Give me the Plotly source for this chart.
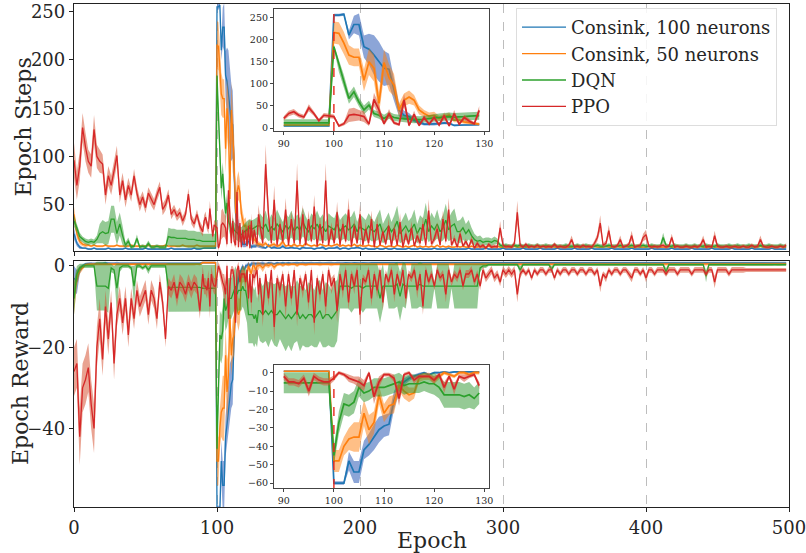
import plotly.graph_objects as go

W, H = 806, 553

# ---------------- data ----------------
# epochs: every 2nd epoch outside the zoomed window, every epoch inside 90..129
EPOCHS = list(range(0, 90, 2)) + list(range(90, 130)) + list(range(130, 500, 2))
N = len(EPOCHS)
INSET_FIRST, INSET_LAST = 90, 129

NAMES = ["Consink, 100 neurons", "Consink, 50 neurons", "DQN", "PPO"]
COLORS = ["#1f77b4", "#ff7f0e", "#2ca02c", "#d62728"]
BAND_COLORS = ["rgba(70,110,190,0.62)", "rgba(255,127,14,0.5)",
               "rgba(44,150,44,0.5)", "rgba(215,85,55,0.55)"]

STEPS_TICKS = [50, 100, 150, 200, 250]
REWARD_TICKS = [0, -20, -40]
EPOCH_TICKS = [0, 100, 200, 300, 400, 500]
INSET_X_TICKS = [90, 100, 110, 120, 130]
INSET_STEPS_TICKS = [0, 50, 100, 150, 200, 250]
INSET_REWARD_TICKS = [0, -10, -20, -30, -40, -50, -60]

# ---- Epoch Steps (mean and spread) ----
STEPS_C100 = [
    20, 10, 6, 5, 5, 4, 4, 5, 4, 4,
    4, 4, 5, 4, 4, 4, 4, 4, 5, 4,
    4, 4, 4, 4, 4, 5, 4, 4, 4, 4,
    4, 4, 4, 4, 5, 4, 4, 4, 4, 4,
    4, 4, 5, 4, 4,
    5, 5, 5, 5, 5, 5, 5, 5, 5, 5,
    255, 255, 257, 210, 234, 234, 184, 178, 165, 150,
    135, 133, 86, 41, 29, 26, 18, 14, 9, 9,
    9, 10, 12, 11, 6, 7, 7, 7, 8, 8,
    7, 6, 5, 8, 5, 6, 5, 5, 7, 5,
    5, 6, 5, 5, 4, 6, 5, 5, 5, 4,
    5, 5, 6, 4, 5, 5, 5, 6, 4, 5,
    5, 4, 5, 5, 6, 5, 4, 5, 4, 4,
    4, 5, 4, 4, 5, 4, 4, 5, 4, 4,
    4, 4, 5, 4, 4, 4, 5, 4, 4, 4,
    4, 5, 4, 4, 4, 4, 5, 4, 4, 4,
    4, 4, 4, 5, 4, 4, 4, 4, 4, 5,
    4, 4, 4, 4, 4, 5, 4, 4, 4, 4,
    4, 4, 5, 4, 4, 4, 4, 4, 5, 4,
    4, 4, 4, 4, 5, 4, 4, 4, 4, 4,
    5, 4, 4, 4, 4, 4, 5, 4, 4, 4,
    4, 4, 4, 5, 4, 4, 4, 4, 4, 4,
    5, 4, 4, 4, 4, 4, 4, 5, 4, 4,
    4, 4, 4, 4, 5, 4, 4, 4, 4, 4,
    4, 5, 4, 4, 4, 4, 4, 4, 5, 4,
    4, 4, 4, 4, 4, 5, 4, 4, 4, 4,
    4, 4, 5, 4, 4, 4, 4, 4, 4, 5,
    4, 4, 4, 4, 4,
]
STEPS_C100_SD = [
    6, 3, 2, 1, 1, 1, 1, 1, 1, 1,
    1, 1, 1, 1, 1, 1, 1, 1, 1, 1,
    1, 1, 1, 1, 1, 1, 1, 1, 1, 1,
    1, 1, 1, 1, 1, 1, 1, 1, 1, 1,
    1, 1, 1, 1, 1,
    1, 1, 1, 1, 1, 1, 1, 1, 1, 1,
    3, 3, 3, 10, 20, 25, 25, 35, 45, 45,
    40, 35, 25, 15, 10, 8, 5, 5, 3, 3,
    3, 3, 3, 3, 2, 2, 2, 2, 2, 2,
    2, 2, 1, 2, 1, 2, 1, 1, 2, 1,
    1, 2, 1, 1, 1, 2, 1, 1, 1, 1,
    1, 1, 2, 1, 1, 1, 1, 2, 1, 1,
    1, 1, 1, 1, 2, 1, 1, 1, 1, 1,
    1, 1, 1, 1, 1, 1, 1, 1, 1, 1,
    1, 1, 1, 1, 1, 1, 1, 1, 1, 1,
    1, 1, 1, 1, 1, 1, 1, 1, 1, 1,
    1, 1, 1, 1, 1, 1, 1, 1, 1, 1,
    1, 1, 1, 1, 1, 1, 1, 1, 1, 1,
    1, 1, 1, 1, 1, 1, 1, 1, 1, 1,
    1, 1, 1, 1, 1, 1, 1, 1, 1, 1,
    1, 1, 1, 1, 1, 1, 1, 1, 1, 1,
    1, 1, 1, 1, 1, 1, 1, 1, 1, 1,
    1, 1, 1, 1, 1, 1, 1, 1, 1, 1,
    1, 1, 1, 1, 1, 1, 1, 1, 1, 1,
    1, 1, 1, 1, 1, 1, 1, 1, 1, 1,
    1, 1, 1, 1, 1, 1, 1, 1, 1, 1,
    1, 1, 1, 1, 1, 1, 1, 1, 1, 1,
    1, 1, 1, 1, 1,
]
STEPS_C50 = [
    40, 20, 12, 9, 8, 8, 7, 8, 7, 7,
    7, 8, 7, 7, 7, 8, 7, 7, 7, 7,
    8, 7, 7, 7, 7, 7, 8, 7, 7, 7,
    7, 7, 8, 7, 7, 7, 7, 7, 8, 7,
    7, 7, 7, 8, 7,
    7, 7, 7, 7, 7, 7, 7, 7, 7, 7,
    216, 214, 192, 165, 160, 160, 108, 150, 135, 56,
    148, 114, 97, 41, 63, 70, 63, 41, 33, 27,
    29, 22, 26, 29, 18, 18, 14, 12, 10, 9,
    9, 8, 10, 7, 8, 9, 7, 8, 12, 7,
    8, 7, 9, 7, 8, 7, 10, 8, 7, 8,
    7, 9, 8, 7, 8, 7, 8, 9, 7, 8,
    7, 8, 7, 9, 7, 8, 7, 7, 8, 7,
    7, 6, 8, 7, 6, 7, 7, 6, 8, 7,
    6, 7, 6, 7, 8, 6, 7, 6, 7, 6,
    7, 6, 8, 6, 7, 6, 7, 6, 6, 7,
    6, 7, 6, 6, 7, 6, 6, 7, 6, 6,
    7, 6, 6, 7, 6, 6, 7, 6, 6, 7,
    6, 6, 7, 6, 6, 7, 6, 6, 6, 7,
    6, 6, 7, 6, 6, 6, 7, 6, 6, 6,
    7, 6, 6, 6, 7, 6, 6, 7, 6, 6,
    6, 7, 6, 6, 6, 7, 6, 6, 7, 6,
    6, 6, 7, 6, 6, 6, 7, 6, 6, 7,
    6, 6, 6, 7, 6, 6, 7, 6, 6, 6,
    7, 6, 6, 6, 7, 6, 6, 6, 7, 6,
    6, 7, 6, 6, 6, 7, 6, 6, 6, 7,
    6, 6, 7, 6, 6, 7, 6, 6, 6, 7,
    6, 6, 7, 6, 6,
]
STEPS_C50_SD = [
    8, 5, 3, 2, 2, 1, 1, 1, 1, 1,
    1, 1, 1, 1, 1, 1, 1, 1, 1, 1,
    1, 1, 1, 1, 1, 1, 1, 1, 1, 1,
    1, 1, 1, 1, 1, 1, 1, 1, 1, 1,
    1, 1, 1, 1, 1,
    1, 1, 1, 1, 1, 1, 1, 1, 1, 1,
    25, 25, 25, 22, 20, 20, 25, 30, 30, 25,
    30, 30, 25, 15, 15, 15, 12, 10, 8, 8,
    8, 6, 6, 6, 5, 5, 4, 4, 3, 3,
    2, 2, 2, 1, 2, 2, 1, 2, 3, 1,
    1, 1, 2, 1, 1, 1, 2, 1, 1, 1,
    1, 1, 1, 1, 1, 1, 1, 1, 1, 1,
    1, 1, 1, 1, 1, 1, 1, 1, 1, 1,
    1, 1, 1, 1, 1, 1, 1, 1, 1, 1,
    1, 1, 1, 1, 1, 1, 1, 1, 1, 1,
    1, 1, 1, 1, 1, 1, 1, 1, 1, 1,
    1, 1, 1, 1, 1, 1, 1, 1, 1, 1,
    1, 1, 1, 1, 1, 1, 1, 1, 1, 1,
    1, 1, 1, 1, 1, 1, 1, 1, 1, 1,
    1, 1, 1, 1, 1, 1, 1, 1, 1, 1,
    1, 1, 1, 1, 1, 1, 1, 1, 1, 1,
    1, 1, 1, 1, 1, 1, 1, 1, 1, 1,
    1, 1, 1, 1, 1, 1, 1, 1, 1, 1,
    1, 1, 1, 1, 1, 1, 1, 1, 1, 1,
    1, 1, 1, 1, 1, 1, 1, 1, 1, 1,
    1, 1, 1, 1, 1, 1, 1, 1, 1, 1,
    1, 1, 1, 1, 1, 1, 1, 1, 1, 1,
    1, 1, 1, 1, 1,
]
STEPS_DQN = [
    33, 26, 17, 14, 12, 11, 12, 11, 14, 20,
    22, 20, 21, 35, 35, 20, 30, 18, 8, 12,
    6, 7, 15, 6, 7, 6, 10, 6, 6, 7,
    6, 6, 6, 17, 16, 16, 15, 15, 15, 15,
    14, 14, 14, 13, 13,
    12, 12, 12, 12, 12, 12, 12, 12, 12, 12,
    184, 142, 105, 67, 82, 59, 41, 52, 33, 29,
    22, 29, 24, 22, 21, 20, 19, 19, 20, 22,
    23, 24, 25, 26, 25, 25, 26, 27, 28, 28,
    28, 25, 30, 22, 27, 24, 30, 26, 22, 28,
    25, 30, 23, 27, 24, 32, 26, 22, 28, 25,
    30, 24, 27, 22, 28, 26, 24, 30, 23, 26,
    28, 24, 26, 30, 22, 27, 25, 23, 28, 24,
    22, 26, 30, 20, 24, 28, 22, 26, 33, 20,
    24, 28, 22, 25, 30, 20, 26, 24, 35, 22,
    28, 24, 30, 22, 26, 34, 24, 28, 30, 22,
    22, 26, 20, 24, 18, 14, 12, 13, 11, 12,
    12, 11, 13, 12, 8, 7, 8, 7, 7, 8,
    7, 8, 7, 7, 8, 7, 7, 8, 7, 7,
    8, 7, 7, 8, 7, 7, 7, 8, 7, 7,
    7, 8, 7, 7, 8, 7, 7, 7, 8, 7,
    7, 7, 8, 7, 7, 7, 8, 7, 7, 7,
    8, 7, 7, 7, 8, 7, 7, 8, 7, 7,
    7, 16, 8, 7, 7, 8, 7, 7, 7, 8,
    7, 7, 8, 7, 7, 7, 8, 7, 7, 7,
    8, 7, 7, 7, 8, 7, 7, 8, 7, 7,
    7, 8, 7, 7, 7, 8, 7, 7, 8, 7,
    7, 7, 8, 7, 7,
]
STEPS_DQN_SD = [
    6, 5, 4, 3, 3, 3, 3, 3, 4, 10,
    12, 12, 12, 14, 14, 12, 12, 10, 3, 4,
    2, 2, 4, 2, 2, 2, 3, 2, 2, 2,
    2, 2, 2, 9, 9, 9, 9, 9, 9, 9,
    9, 9, 9, 9, 9,
    8, 8, 8, 8, 8, 8, 8, 8, 8, 8,
    5, 15, 15, 12, 12, 10, 10, 10, 8, 8,
    8, 8, 8, 8, 8, 8, 8, 8, 8, 8,
    9, 9, 9, 9, 9, 9, 9, 9, 9, 9,
    13, 12, 14, 10, 13, 12, 15, 12, 10, 13,
    12, 14, 11, 13, 12, 15, 12, 10, 13, 12,
    14, 12, 13, 10, 13, 12, 12, 14, 11, 12,
    13, 12, 12, 14, 10, 13, 12, 11, 13, 12,
    10, 13, 15, 10, 12, 14, 10, 13, 16, 10,
    12, 14, 11, 12, 15, 10, 13, 12, 17, 11,
    14, 12, 15, 11, 13, 17, 12, 14, 16, 11,
    12, 12, 10, 10, 8, 6, 5, 5, 4, 4,
    4, 4, 4, 3, 2, 2, 2, 2, 2, 2,
    2, 2, 2, 2, 2, 2, 2, 2, 2, 2,
    2, 2, 2, 2, 2, 2, 2, 2, 2, 2,
    2, 2, 2, 2, 2, 2, 2, 2, 2, 2,
    2, 2, 2, 2, 2, 2, 2, 2, 2, 2,
    2, 2, 2, 2, 2, 2, 2, 2, 2, 2,
    2, 5, 2, 2, 2, 2, 2, 2, 2, 2,
    2, 2, 2, 2, 2, 2, 2, 2, 2, 2,
    2, 2, 2, 2, 2, 2, 2, 2, 2, 2,
    2, 2, 2, 2, 2, 2, 2, 2, 2, 2,
    2, 2, 2, 2, 2,
]
STEPS_PPO = [
    96, 70, 90, 130, 110, 95, 90, 128, 100, 95,
    92, 60, 80, 70, 85, 101, 60, 75, 55, 70,
    60, 80, 62, 50, 58, 47, 62, 55, 50, 60,
    68, 45, 50, 60, 40, 45, 38, 42, 33, 40,
    61, 35, 30, 40, 28,
    22, 33, 37, 29, 25, 46, 33, 17, 29, 27,
    26, 5, 10, 29, 31, 29, 26, 9, 65, 41,
    10, 33, 12, 8, 63, 6, 31, 6, 24, 9,
    24, 7, 28, 5, 33, 9, 24, 16, 10, 40,
    30, 10, 92, 40, 10, 55, 8, 30, 12, 45,
    8, 35, 10, 75, 9, 40, 8, 35, 12, 48,
    7, 30, 10, 75, 8, 25, 10, 42, 8, 30,
    12, 45, 7, 28, 10, 40, 8, 25, 10, 35,
    6, 30, 8, 22, 9, 28, 7, 25, 8, 32,
    6, 20, 9, 26, 7, 18, 10, 30, 8, 44,
    9, 15, 25, 8, 35, 12, 45, 8, 15, 6,
    20, 7, 12, 6, 14, 5, 10, 6, 8, 5,
    9, 6, 7, 6, 26, 8, 6, 7, 6, 10,
    42, 8, 6, 9, 6, 7, 6, 8, 6, 7,
    6, 7, 6, 9, 6, 7, 6, 6, 8, 14,
    6, 7, 6, 8, 6, 7, 6, 10, 16, 31,
    8, 10, 23, 7, 6, 8, 14, 6, 7, 9,
    18, 6, 7, 8, 16, 19, 7, 6, 7, 6,
    7, 8, 6, 7, 16, 6, 7, 6, 6, 7,
    6, 6, 7, 6, 8, 14, 6, 7, 6, 18,
    7, 6, 6, 7, 6, 6, 7, 6, 6, 7,
    6, 6, 8, 6, 7, 14, 7, 6, 6, 7,
    6, 6, 7, 6, 8,
]
STEPS_PPO_SD = [
    18, 15, 15, 15, 15, 12, 12, 15, 12, 12,
    10, 10, 10, 10, 10, 10, 8, 8, 8, 8,
    7, 7, 7, 7, 6, 6, 6, 6, 6, 6,
    6, 6, 6, 6, 5, 5, 5, 5, 5, 5,
    6, 5, 5, 5, 5,
    5, 6, 6, 5, 5, 8, 5, 4, 5, 5,
    5, 3, 4, 15, 15, 12, 12, 4, 15, 12,
    4, 10, 4, 3, 15, 3, 8, 3, 6, 3,
    6, 3, 8, 2, 8, 3, 6, 5, 3, 10,
    8, 3, 20, 10, 3, 15, 2, 8, 3, 12,
    2, 9, 3, 18, 2, 10, 2, 9, 3, 12,
    2, 8, 3, 18, 2, 7, 3, 11, 2, 8,
    3, 12, 2, 8, 3, 10, 2, 7, 3, 9,
    2, 8, 2, 6, 2, 8, 2, 7, 2, 9,
    2, 6, 2, 7, 2, 5, 3, 8, 2, 12,
    2, 4, 7, 2, 9, 3, 12, 2, 4, 2,
    5, 2, 3, 2, 4, 2, 3, 2, 2, 2,
    2, 2, 2, 2, 7, 2, 2, 2, 2, 3,
    12, 2, 2, 2, 2, 2, 2, 2, 2, 2,
    2, 2, 2, 2, 2, 2, 2, 2, 2, 4,
    2, 2, 2, 2, 2, 2, 2, 3, 4, 8,
    2, 3, 6, 2, 2, 2, 4, 2, 2, 2,
    5, 2, 2, 2, 4, 5, 2, 2, 2, 2,
    2, 2, 2, 2, 4, 2, 2, 2, 2, 2,
    2, 2, 2, 2, 2, 4, 2, 2, 2, 5,
    2, 2, 2, 2, 2, 2, 2, 2, 2, 2,
    2, 2, 2, 2, 2, 4, 2, 2, 2, 2,
    2, 2, 2, 2, 2,
]

# ---- Epoch Reward (mean and spread) ----
REWARD_C100 = [
    -3, -4, -1, 0, 0.5, 0.6, 0.6, 0.5, 0.6, 0.6,
    0.6, 0.7, 0.6, 0.6, 0.6, 0.7, 0.6, 0.6, 0.6, 0.6,
    0.7, 0.6, 0.6, 0.6, 0.6, 0.6, 0.7, 0.6, 0.6, 0.6,
    0.6, 0.6, 0.7, 0.6, 0.6, 0.6, 0.6, 0.6, 0.7, 0.6,
    0.6, 0.6, 0.6, 0.7, 0.6,
    0.8, 0.8, 0.8, 0.8, 0.8, 0.8, 0.8, 0.8, 0.8, 0.8,
    -60, -60, -60, -48, -54, -54, -42, -39, -35, -31,
    -29, -28, -15, -8, -5, -3, -2, -1, 0, -1,
    0, 0, 0.5, 0, 0.5, 0.5, 0.5, 0.5, 0.5, 0.5,
    0.5, 0.6, 0.4, 0.7, 0.6, 0.5, 0.7, 0.6, 0.7, 0.6,
    0.7, 0.6, 0.7, 0.7, 0.6, 0.7, 0.6, 0.7, 0.7, 0.6,
    0.7, 0.7, 0.6, 0.7, 0.7, 0.7, 0.6, 0.7, 0.7, 0.7,
    0.8, 0.7, 0.7, 0.8, 0.7, 0.7, 0.8, 0.7, 0.7, 0.8,
    0.8, 0.7, 0.7, 0.8, 0.7, 0.7, 0.8, 0.7, 0.7, 0.8,
    0.8, 0.7, 0.7, 0.8, 0.7, 0.7, 0.8, 0.7, 0.7, 0.8,
    0.8, 0.7, 0.7, 0.8, 0.7, 0.7, 0.8, 0.7, 0.7, 0.8,
    0.8, 0.7, 0.7, 0.8, 0.7, 0.7, 0.8, 0.7, 0.7, 0.8,
    0.8, 0.7, 0.7, 0.8, 0.7, 0.7, 0.8, 0.7, 0.7, 0.8,
    0.8, 0.7, 0.7, 0.8, 0.7, 0.7, 0.8, 0.7, 0.7, 0.8,
    0.8, 0.7, 0.7, 0.8, 0.7, 0.7, 0.8, 0.7, 0.7, 0.8,
    0.8, 0.7, 0.7, 0.8, 0.7, 0.7, 0.8, 0.7, 0.7, 0.8,
    0.8, 0.7, 0.7, 0.8, 0.7, 0.7, 0.8, 0.7, 0.7, 0.8,
    0.8, 0.7, 0.7, 0.8, 0.7, 0.7, 0.8, 0.7, 0.7, 0.8,
    0.8, 0.7, 0.7, 0.8, 0.7, 0.7, 0.8, 0.7, 0.7, 0.8,
    0.8, 0.7, 0.7, 0.8, 0.7, 0.7, 0.8, 0.7, 0.7, 0.8,
    0.8, 0.7, 0.7, 0.8, 0.7, 0.7, 0.8, 0.7, 0.7, 0.8,
    0.8, 0.7, 0.7, 0.8, 0.7, 0.7, 0.8, 0.7, 0.7, 0.8,
    0.8, 0.7, 0.7, 0.8, 0.7,
]
REWARD_C100_SD = [
    3, 3, 1, 0.5, 0.3, 0.3, 0.3, 0.3, 0.3, 0.3,
    0.3, 0.3, 0.3, 0.3, 0.3, 0.3, 0.3, 0.3, 0.3, 0.3,
    0.3, 0.3, 0.3, 0.3, 0.3, 0.3, 0.3, 0.3, 0.3, 0.3,
    0.3, 0.3, 0.3, 0.3, 0.3, 0.3, 0.3, 0.3, 0.3, 0.3,
    0.3, 0.3, 0.3, 0.3, 0.3,
    0.3, 0.3, 0.3, 0.3, 0.3, 0.3, 0.3, 0.3, 0.3, 0.3,
    1, 1, 1, 5, 6, 6, 5, 6, 7, 7,
    6, 6, 5, 3, 2, 1.5, 1, 1, 0.5, 0.5,
    0.5, 0.5, 0.5, 0.5, 0.5, 0.5, 0.5, 0.5, 0.5, 0.5,
    0.4, 0.5, 0.4, 0.3, 0.4, 0.3, 0.3, 0.3, 0.3, 0.3,
    0.3, 0.3, 0.3, 0.3, 0.3, 0.3, 0.3, 0.3, 0.3, 0.3,
    0.3, 0.3, 0.3, 0.3, 0.3, 0.3, 0.3, 0.3, 0.3, 0.3,
    0.3, 0.3, 0.3, 0.3, 0.3, 0.3, 0.3, 0.3, 0.3, 0.3,
    0.3, 0.3, 0.3, 0.3, 0.3, 0.3, 0.3, 0.3, 0.3, 0.3,
    0.3, 0.3, 0.3, 0.3, 0.3, 0.3, 0.3, 0.3, 0.3, 0.3,
    0.3, 0.3, 0.3, 0.3, 0.3, 0.3, 0.3, 0.3, 0.3, 0.3,
    0.3, 0.3, 0.3, 0.3, 0.3, 0.3, 0.3, 0.3, 0.3, 0.3,
    0.3, 0.3, 0.3, 0.3, 0.3, 0.3, 0.3, 0.3, 0.3, 0.3,
    0.3, 0.3, 0.3, 0.3, 0.3, 0.3, 0.3, 0.3, 0.3, 0.3,
    0.3, 0.3, 0.3, 0.3, 0.3, 0.3, 0.3, 0.3, 0.3, 0.3,
    0.3, 0.3, 0.3, 0.3, 0.3, 0.3, 0.3, 0.3, 0.3, 0.3,
    0.3, 0.3, 0.3, 0.3, 0.3, 0.3, 0.3, 0.3, 0.3, 0.3,
    0.3, 0.3, 0.3, 0.3, 0.3, 0.3, 0.3, 0.3, 0.3, 0.3,
    0.3, 0.3, 0.3, 0.3, 0.3, 0.3, 0.3, 0.3, 0.3, 0.3,
    0.3, 0.3, 0.3, 0.3, 0.3, 0.3, 0.3, 0.3, 0.3, 0.3,
    0.3, 0.3, 0.3, 0.3, 0.3, 0.3, 0.3, 0.3, 0.3, 0.3,
    0.3, 0.3, 0.3, 0.3, 0.3, 0.3, 0.3, 0.3, 0.3, 0.3,
    0.3, 0.3, 0.3, 0.3, 0.3,
]
REWARD_C50 = [
    -8, -3, -1, -0.5, 0.3, 0.4, 0.4, 0.4, 0.5, 0.4,
    0.4, 0.5, 0.4, 0.4, 0.4, 0.5, 0.4, 0.4, 0.4, 0.4,
    0.5, 0.4, 0.4, 0.4, 0.4, 0.4, 0.5, 0.4, 0.4, 0.4,
    0.4, 0.4, 0.5, 0.4, 0.4, 0.4, 0.4, 0.4, 0.5, 0.4,
    0.4, 0.4, 0.4, 0.5, 0.4,
    0.8, 0.8, 0.8, 0.8, 0.8, 0.8, 0.8, 0.8, 0.8, 0.8,
    -48, -48, -40, -36, -35, -35, -22, -31, -27, -12,
    -22, -18, -17, -7, -10, -12, -11, -3, -2, -2,
    -4, -2, 0, -1, -2, 0, 0, -1, 0, 0,
    0.2, -0.5, 0.3, 0.1, 0.4, -0.3, 0.3, 0.4, 0.2, 0.4,
    0.3, 0.4, 0.4, 0.2, 0.4, 0.4, 0.3, 0.4, 0.4, 0.4,
    0.4, 0.3, 0.4, 0.4, 0.4, 0.3, 0.4, 0.4, 0.4, 0.4,
    0.4, 0.4, 0.5, 0.4, 0.4, 0.4, 0.5, 0.4, 0.4, 0.4,
    0.5, 0.4, 0.4, 0.4, 0.5, 0.4, 0.4, 0.4, 0.5, 0.4,
    0.4, 0.4, 0.5, 0.4, 0.4, 0.4, 0.5, 0.4, 0.4, 0.4,
    0.5, 0.4, 0.4, 0.4, 0.5, 0.4, 0.4, 0.4, 0.5, 0.4,
    0.4, 0.4, 0.5, 0.4, 0.4, 0.4, 0.5, 0.4, 0.4, 0.4,
    0.5, 0.4, 0.4, 0.4, 0.5, 0.4, 0.4, 0.4, 0.5, 0.4,
    0.4, 0.4, 0.5, 0.4, 0.4, 0.4, 0.5, 0.4, 0.4, 0.4,
    0.5, 0.4, 0.4, 0.4, 0.5, 0.4, 0.4, 0.4, 0.5, 0.4,
    0.4, 0.4, 0.5, 0.4, 0.4, 0.4, 0.5, 0.4, 0.4, 0.4,
    0.5, 0.4, 0.4, 0.4, 0.5, 0.4, 0.4, 0.4, 0.5, 0.4,
    0.4, 0.4, 0.5, 0.4, 0.4, 0.4, 0.5, 0.4, 0.4, 0.4,
    0.5, 0.4, 0.4, 0.4, 0.5, 0.4, 0.4, 0.4, 0.5, 0.4,
    0.4, 0.4, 0.5, 0.4, 0.4, 0.4, 0.5, 0.4, 0.4, 0.4,
    0.5, 0.4, 0.4, 0.4, 0.5, 0.4, 0.4, 0.4, 0.5, 0.4,
    0.4, 0.4, 0.5, 0.4, 0.4, 0.4, 0.5, 0.4, 0.4, 0.4,
    0.5, 0.4, 0.4, 0.4, 0.5,
]
REWARD_C50_SD = [
    4, 2, 1, 0.5, 0.3, 0.3, 0.3, 0.3, 0.3, 0.3,
    0.3, 0.3, 0.3, 0.3, 0.3, 0.3, 0.3, 0.3, 0.3, 0.3,
    0.3, 0.3, 0.3, 0.3, 0.3, 0.3, 0.3, 0.3, 0.3, 0.3,
    0.3, 0.3, 0.3, 0.3, 0.3, 0.3, 0.3, 0.3, 0.3, 0.3,
    0.3, 0.3, 0.3, 0.3, 0.3,
    0.3, 0.3, 0.3, 0.3, 0.3, 0.3, 0.3, 0.3, 0.3, 0.3,
    6, 6, 5, 6, 8, 8, 7, 8, 6, 5,
    5, 5, 5, 3, 4, 4, 3, 2, 2, 2,
    2, 1.5, 1, 1, 1, 1, 1, 1, 1, 1,
    0.6, 1, 0.5, 0.6, 0.4, 0.8, 0.4, 0.3, 0.5, 0.3,
    0.4, 0.3, 0.3, 0.5, 0.3, 0.3, 0.4, 0.3, 0.3, 0.3,
    0.3, 0.4, 0.3, 0.3, 0.3, 0.4, 0.3, 0.3, 0.3, 0.3,
    0.3, 0.3, 0.3, 0.3, 0.3, 0.3, 0.3, 0.3, 0.3, 0.3,
    0.3, 0.3, 0.3, 0.3, 0.3, 0.3, 0.3, 0.3, 0.3, 0.3,
    0.3, 0.3, 0.3, 0.3, 0.3, 0.3, 0.3, 0.3, 0.3, 0.3,
    0.3, 0.3, 0.3, 0.3, 0.3, 0.3, 0.3, 0.3, 0.3, 0.3,
    0.3, 0.3, 0.3, 0.3, 0.3, 0.3, 0.3, 0.3, 0.3, 0.3,
    0.3, 0.3, 0.3, 0.3, 0.3, 0.3, 0.3, 0.3, 0.3, 0.3,
    0.3, 0.3, 0.3, 0.3, 0.3, 0.3, 0.3, 0.3, 0.3, 0.3,
    0.3, 0.3, 0.3, 0.3, 0.3, 0.3, 0.3, 0.3, 0.3, 0.3,
    0.3, 0.3, 0.3, 0.3, 0.3, 0.3, 0.3, 0.3, 0.3, 0.3,
    0.3, 0.3, 0.3, 0.3, 0.3, 0.3, 0.3, 0.3, 0.3, 0.3,
    0.3, 0.3, 0.3, 0.3, 0.3, 0.3, 0.3, 0.3, 0.3, 0.3,
    0.3, 0.3, 0.3, 0.3, 0.3, 0.3, 0.3, 0.3, 0.3, 0.3,
    0.3, 0.3, 0.3, 0.3, 0.3, 0.3, 0.3, 0.3, 0.3, 0.3,
    0.3, 0.3, 0.3, 0.3, 0.3, 0.3, 0.3, 0.3, 0.3, 0.3,
    0.3, 0.3, 0.3, 0.3, 0.3, 0.3, 0.3, 0.3, 0.3, 0.3,
    0.3, 0.3, 0.3, 0.3, 0.3,
]
REWARD_DQN = [
    -8, -2, -0.5, 0, 0, 0, 0, 0, -5, -5,
    -5, -5, -5.5, -0.5, -1, -5.5, -0.5, 0, 0, 0,
    -0.5, -5, 0, 0, -0.5, 0, -1, 0, 0, 0,
    0, 0, 0, -5.3, -5.3, -5.3, -5.3, -5.2, -5.3, -5.3,
    -5.3, -5.3, -5.2, -5.3, -5.3,
    -5.5, -5.5, -5.5, -5.5, -5.5, -5.5, -5.5, -5.5, -5.5, -5.5,
    -45, -27, -17, -18, -16, -8, -11, -10, -8, -8,
    -8, -7, -6, -5, -7, -6, -6, -6, -5, -6,
    -6, -8, -12, -12, -12, -12, -13, -12, -14, -11,
    -11, -12, -11, -12, -11, -12, -12, -11, -12, -13,
    -12, -13, -12, -11, -13, -12, -13, -12, -12, -13,
    -12, -11, -13, -12, -12, -13, -12, -11, -5, -5,
    -5, -5, -5.5, -5, -5, -5, -5.5, -5, -5, -5,
    -5, -5, -8, -5, -5, -5, -5, -5, -4.5, -7.5,
    -4.5, -5, -5, -5, -5, -5, -4.5, -5, -5, -5,
    -5, -5, -5, -5, -5, -5, -5, -5, -5, -5,
    -5, -5, -5, -5, -5, -5, -5, -0.5, 0, 0,
    0.3, 0.3, 0.3, 0.3, 0.3, 0.3, 0.3, 0.3, 0.3, 0.3,
    0.3, -1, 0.3, 0.3, 0.3, 0.3, 0.3, 0.3, 0.3, 0.3,
    0.3, 0.3, -0.8, 0.3, 0.3, 0.3, 0.3, 0.3, 0.3, 0.3,
    0.3, 0.3, 0.3, 0.3, 0.3, 0.3, 0.3, 0.3, 0.3, 0.3,
    0.3, 0.3, 0.3, 0.3, 0.3, 0.3, 0.3, 0.3, 0.3, 0.3,
    0.3, 0.3, 0.3, 0.3, 0.3, 0.3, 0.3, 0.3, 0.3, 0.3,
    0.3, 0.3, -1.5, 0.3, 0.3, 0.3, 0.3, 0.3, 0.3, 0.3,
    0.3, 0.3, 0.3, 0.3, 0.3, 0.3, -2.5, 0.3, 0.3, 0.3,
    0.3, 0.3, 0.3, 0.3, 0.3, 0.3, 0.3, 0.3, 0.3, 0.3,
    0.3, 0.3, 0.3, 0.3, 0.3, 0.3, 0.3, 0.3, 0.3, 0.3,
    0.3, 0.3, 0.3, 0.3, 0.3,
]
REWARD_DQN_SD = [
    4, 2, 1, 0.5, 0.5, 0.5, 0.5, 0.5, 6, 6,
    6, 6, 6, 1, 1, 6, 1, 0.5, 0.5, 0.5,
    0.5, 5, 0.5, 0.5, 0.5, 0.5, 1, 0.5, 0.5, 0.5,
    0.5, 0.5, 0.5, 6, 6, 6, 6, 6, 6, 6,
    6, 6, 6, 6, 6,
    5.7, 5.7, 5.7, 5.7, 5.7, 5.7, 5.7, 5.7, 5.7, 5.7,
    5, 6, 6, 6, 6, 5, 5, 5, 5, 5,
    5, 5, 5, 5, 5, 5, 5, 5, 5, 5,
    6, 6, 7, 7, 7, 7, 7, 7, 6, 6,
    7.5, 7, 7.5, 8, 7, 7.5, 8, 7, 7.5, 8,
    7.5, 8, 7, 7.5, 8, 7.5, 7, 8, 7.5, 7,
    8, 7.5, 7, 8, 7.5, 7, 8, 7.5, 5.5, 5.5,
    5.5, 5.5, 6, 5.5, 5.5, 5.5, 6, 5.5, 5.5, 5.5,
    5.5, 5.5, 6, 5.5, 0.5, 5.5, 5.5, 5.5, 5.5, 6,
    5.5, 5.5, 0.5, 5.5, 5.5, 5.5, 5.5, 5.5, 5.5, 5.5,
    5.5, 0.5, 5.5, 5.5, 5.5, 5.5, 5.5, 0.5, 5.5, 5.5,
    5.5, 5.5, 5.5, 5.5, 5.5, 5.5, 5.5, 1, 0.5, 0.5,
    0.3, 0.3, 0.3, 0.3, 0.3, 0.3, 0.3, 0.3, 0.3, 0.3,
    0.3, 1, 0.3, 0.3, 0.3, 0.3, 0.3, 0.3, 0.3, 0.3,
    0.3, 0.3, 0.8, 0.3, 0.3, 0.3, 0.3, 0.3, 0.3, 0.3,
    0.3, 0.3, 0.3, 0.3, 0.3, 0.3, 0.3, 0.3, 0.3, 0.3,
    0.3, 0.3, 0.3, 0.3, 0.3, 0.3, 0.3, 0.3, 0.3, 0.3,
    0.3, 0.3, 0.3, 0.3, 0.3, 0.3, 0.3, 0.3, 0.3, 0.3,
    0.3, 0.3, 1, 0.3, 0.3, 0.3, 0.3, 0.3, 0.3, 0.3,
    0.3, 0.3, 0.3, 0.3, 0.3, 0.3, 1.5, 0.3, 0.3, 0.3,
    0.3, 0.3, 0.3, 0.3, 0.3, 0.3, 0.3, 0.3, 0.3, 0.3,
    0.3, 0.3, 0.3, 0.3, 0.3, 0.3, 0.3, 0.3, 0.3, 0.3,
    0.3, 0.3, 0.3, 0.3, 0.3,
]
REWARD_PPO = [
    -26, -24, -42, -30, -28, -25, -34, -40, -20, -13,
    -23, -10, -18, -9, -24, -12, -8, -14, -8, -17,
    -8, -13, -6, -10, -8, -6, -12, -6, -8, -13,
    -4, -9, -18, -5, -6, -4, -8, -4, -5, -7,
    -4, -6, -4, -5, -11,
    -2, -5, -5, -6, -3, -10, -2, -4, -5, -5,
    -3, 0, -1, -3, -4, -5, -7, 0, -13, -5,
    -1, -1, -3, -14, -1, 0, -4, -2, -2, -2,
    -4, -1, -8, -2, -9, -2, -3, -2, -1, -7,
    -3, -12, -2, -8, -1, -15, -3, -6, -2, -10,
    -2, -8, -1, -12, -3, -6, -2, -9, -1, -14,
    -3, -7, -2, -10, -1, -5, -3, -11, -2, -6,
    -1, -9, -2, -5, -1, -12, -3, -4, -1, -8,
    -2, -6, -1, -9, -2, -4, -1, -7, -2, -5,
    -1, -8, -2, -3, -1, -6, -2, -10, -1, -4,
    -2, -5, -1, -3, -2, -7, -1, -4, -2, -3,
    -1, -5, -2, -2, -1, -4, -2, -5, -1, -3,
    -2, -1, -3, -2, -4, -1, -2, -1, -2, -1,
    -7, -2, -1, -2, -1, -3, -1, -2, -1, -1,
    -2, -1, -1, -3, -1, -2, -1, -1, -2, -1,
    -1, -2, -1, -1, -2, -1, -1, -2, -1, -5,
    -2, -3, -1, -2, -1, -1, -2, -1, -1, -2,
    -3, -1, -1, -2, -1, -3, -1, -1, -2, -1,
    -1, -1, -2, -1, -1, -1, -2, -1, -1, -1,
    -1, -2, -1, -1, -1, -1, -2, -1, -1, -4,
    -1, -1, -1, -1, -2, -1, -1, -1, -1, -1,
    -1, -1, -1, -1, -1, -1, -1, -1, -1, -1,
    -1, -1, -1, -1, -1,
]
REWARD_PPO_SD = [
    6, 6, 7, 6, 6, 6, 6, 6, 5, 5,
    4, 4, 4, 3, 4, 3, 3, 3, 3, 3,
    2.5, 2.5, 2.5, 2.5, 2.5, 2.5, 2.5, 2.5, 2.5, 2.5,
    2, 2, 2, 2, 2, 2, 2, 2, 2, 2,
    2, 2, 2, 2, 2,
    2, 2, 2, 2, 2, 3, 2, 2, 2, 2,
    1.5, 1, 1, 2, 2, 3, 3, 1, 4, 3,
    1, 1, 2, 4, 1, 1, 2, 1, 1, 1,
    2, 1, 3, 1, 3, 1, 2, 1, 1, 2,
    1, 3, 1, 2, 1, 4, 1, 2, 1, 3,
    1, 2, 1, 3, 1, 2, 1, 2, 1, 3,
    1, 2, 1, 3, 1, 2, 1, 3, 1, 2,
    1, 2, 1, 2, 1, 3, 1, 1, 1, 2,
    1, 2, 1, 2, 1, 1, 1, 2, 1, 1,
    1, 2, 1, 1, 1, 2, 1, 2, 1, 1,
    1, 1, 1, 1, 1, 2, 1, 1, 1, 1,
    1, 1, 1, 1, 1, 1, 1, 1, 1, 1,
    1, 1, 1, 1, 1, 1, 1, 1, 1, 1,
    2, 1, 0.7, 0.7, 0.7, 0.7, 0.7, 0.7, 0.7, 0.7,
    0.7, 0.7, 0.7, 0.7, 0.7, 0.7, 0.7, 0.7, 0.7, 0.7,
    0.7, 0.7, 0.7, 0.7, 0.7, 0.7, 0.7, 0.7, 0.7, 1.5,
    0.7, 1, 0.7, 0.7, 0.7, 0.7, 0.7, 0.7, 0.7, 0.7,
    1, 0.7, 0.7, 0.7, 0.7, 1, 0.7, 0.7, 0.7, 0.7,
    0.7, 0.7, 0.7, 0.7, 0.7, 0.7, 0.7, 0.7, 0.7, 0.7,
    0.7, 0.7, 0.7, 0.7, 0.7, 0.7, 0.7, 0.7, 0.7, 1.5,
    0.7, 0.7, 0.7, 0.7, 0.7, 0.7, 0.7, 0.7, 0.7, 0.7,
    0.5, 0.5, 0.5, 0.5, 0.5, 0.5, 0.5, 0.5, 0.5, 0.5,
    0.5, 0.5, 0.5, 0.5, 0.5,
]

STEPS = [(STEPS_C100, STEPS_C100_SD), (STEPS_C50, STEPS_C50_SD),
         (STEPS_DQN, STEPS_DQN_SD), (STEPS_PPO, STEPS_PPO_SD)]
REWARDS = [(REWARD_C100, REWARD_C100_SD), (REWARD_C50, REWARD_C50_SD),
           (REWARD_DQN, REWARD_DQN_SD), (REWARD_PPO, REWARD_PPO_SD)]

for label, group in (("steps", STEPS), ("reward", REWARDS)):
    for k, (m, s) in enumerate(group):
        if len(m) != N or len(s) != N:
            raise ValueError(f"{label} series {k}: {len(m)} / {len(s)} values, expected {N}")

inset_idx = [i for i, e in enumerate(EPOCHS) if INSET_FIRST <= e <= INSET_LAST]

# ---------------- figure ----------------
FONT = "DejaVu Serif"
INK = "#262626"
fig = go.Figure()


def add_series(xs, mean, sd, i, xa, ya, width, legend):
    hi = [m + s for m, s in zip(mean, sd)]
    lo = [m - s for m, s in zip(mean, sd)]
    fig.add_trace(go.Scatter(
        x=xs + xs[::-1], y=hi + lo[::-1], fill="toself", fillcolor=BAND_COLORS[i],
        mode="lines", line=dict(width=0), hoverinfo="skip", showlegend=False,
        legendgroup=NAMES[i], xaxis=xa, yaxis=ya))
    fig.add_trace(go.Scatter(
        x=xs, y=mean, mode="lines", line=dict(color=COLORS[i], width=width),
        name=NAMES[i], legendgroup=NAMES[i], showlegend=legend, xaxis=xa, yaxis=ya))


for i, (m, s) in enumerate(STEPS):
    add_series(EPOCHS, m, s, i, "x", "y", 1.3, True)
for i, (m, s) in enumerate(REWARDS):
    add_series(EPOCHS, m, s, i, "x2", "y2", 1.3, False)

xs_in = [EPOCHS[j] for j in inset_idx]
for i, (m, s) in enumerate(STEPS):
    add_series(xs_in, [m[j] for j in inset_idx], [s[j] for j in inset_idx], i, "x3", "y3", 1.7, False)
for i, (m, s) in enumerate(REWARDS):
    add_series(xs_in, [m[j] for j in inset_idx], [s[j] for j in inset_idx], i, "x4", "y4", 1.7, False)


def px_x(p):
    return p / W


def px_y(p):
    return 1 - p / H


MAIN_X = [px_x(74), px_x(789)]
TOP_Y = [px_y(251), px_y(4)]
BOT_Y = [px_y(507), px_y(261)]
INSET_X = [px_x(274), px_x(489)]
INSET_TOP_Y = [px_y(131), px_y(9)]
INSET_BOT_Y = [px_y(488), px_y(365)]

main_axis = dict(showline=True, mirror=True, linecolor="#222222", linewidth=1.3,
                 ticks="outside", ticklen=4, tickwidth=1.1, tickcolor="#222222",
                 zeroline=False, automargin=False, ticklabeloverflow="allow",
                 tickfont=dict(family=FONT, size=18, color=INK))
inset_axis = dict(showline=True, mirror=True, linecolor="#444444", linewidth=1.2,
                  ticks="outside", ticklen=3, tickwidth=1, tickcolor="#444444",
                  zeroline=False, showgrid=False, automargin=False,
                  ticklabeloverflow="allow",
                  tickfont=dict(family=FONT, size=9.5, color=INK))

fig.update_layout(
    template="none",
    width=W, height=H, margin=dict(l=0, r=0, t=0, b=0, pad=0), autosize=False,
    paper_bgcolor="white", plot_bgcolor="rgba(0,0,0,0)",
    font=dict(family=FONT, color=INK),
    xaxis=dict(domain=MAIN_X, anchor="y", range=[0, 500], tickvals=EPOCH_TICKS,
               showticklabels=False, showgrid=True, gridcolor="#bdbdbd",
               griddash="dash", gridwidth=0.8, **main_axis),
    yaxis=dict(domain=TOP_Y, anchor="x", range=[2, 258], tickvals=STEPS_TICKS,
               showgrid=False, **main_axis),
    xaxis2=dict(domain=MAIN_X, anchor="y2", range=[0, 500], tickvals=EPOCH_TICKS,
                showgrid=True, gridcolor="#bdbdbd", griddash="dash", gridwidth=0.8,
                **main_axis),
    yaxis2=dict(domain=BOT_Y, anchor="x2", range=[-59.3, 1.2], tickvals=REWARD_TICKS,
                showgrid=False, **main_axis),
    xaxis3=dict(domain=INSET_X, anchor="y3", range=[88.05, 130.95],
                tickvals=INSET_X_TICKS, **inset_axis),
    yaxis3=dict(domain=INSET_TOP_Y, anchor="x3", range=[-6.5, 269],
                tickvals=INSET_STEPS_TICKS, **inset_axis),
    xaxis4=dict(domain=INSET_X, anchor="y4", range=[88.05, 130.95],
                tickvals=INSET_X_TICKS, **inset_axis),
    yaxis4=dict(domain=INSET_BOT_Y, anchor="x4", range=[-62.7, 4.2],
                tickvals=INSET_REWARD_TICKS, **inset_axis),
    legend=dict(x=px_x(516), y=px_y(8), xanchor="left", yanchor="top",
                bgcolor="rgba(255,255,255,0.85)", bordercolor="#dddddd", borderwidth=1,
                font=dict(family=FONT, size=18, color=INK), tracegroupgap=0,
                itemwidth=44),
    shapes=[
        dict(type="line", xref="x3", yref="y3 domain", x0=100, x1=100, y0=0, y1=1,
             line=dict(color="#e8261c", width=1.4, dash="dash")),
        dict(type="line", xref="x4", yref="y4 domain", x0=100, x1=100, y0=0, y1=1,
             line=dict(color="#e8261c", width=1.4, dash="dash")),
    ],
    annotations=[
        dict(text="Epoch Steps", xref="paper", yref="paper", x=px_x(23),
             y=(TOP_Y[0] + TOP_Y[1]) / 2, textangle=-90, showarrow=False,
             xanchor="center", yanchor="middle",
             font=dict(family=FONT, size=22, color=INK)),
        dict(text="Epoch Reward", xref="paper", yref="paper", x=px_x(20),
             y=(BOT_Y[0] + BOT_Y[1]) / 2, textangle=-90, showarrow=False,
             xanchor="center", yanchor="middle",
             font=dict(family=FONT, size=22, color=INK)),
        dict(text="Epoch", xref="paper", yref="paper", x=(MAIN_X[0] + MAIN_X[1]) / 2,
             y=px_y(540), showarrow=False, xanchor="center", yanchor="middle",
             font=dict(family=FONT, size=22, color=INK)),
    ],
)

# the page's default 8px body margin would shift the figure; remove it
fig.write_html("out.html", config={"displayModeBar": False},
               post_script="document.body.style.margin='0';document.body.style.overflow='hidden';")
